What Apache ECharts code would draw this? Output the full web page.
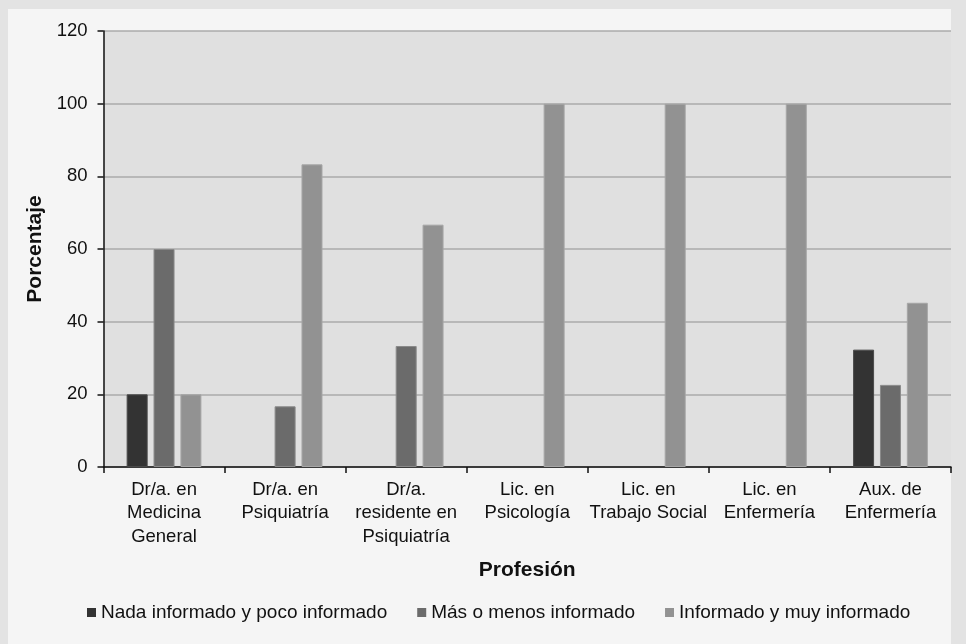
<!DOCTYPE html>
<html>
<head>
<meta charset="utf-8">
<script src="https://cdn.jsdelivr.net/npm/echarts@6/dist/echarts.min.js"></script>
<style>
  html, body { margin: 0; padding: 0; background: #e3e3e3; }
  #chart { width: 966px; height: 644px; }
</style>
</head>
<body>
<div id="chart"></div>
<script>
// Profesiones (eje X)
const categories = [
  'Dr/a. en\nMedicina\nGeneral',
  'Dr/a. en\nPsiquiatría',
  'Dr/a.\nresidente en\nPsiquiatría',
  'Lic. en\nPsicología',
  'Lic. en\nTrabajo Social',
  'Lic. en\nEnfermería',
  'Aux. de\nEnfermería'
];

// Porcentaje por nivel de información
const nadaPoco = [20, 0, 0, 0, 0, 0, 32.3];
const masMenos = [60, 16.7, 33.3, 0, 0, 0, 22.6];
const informado = [20, 83.3, 66.7, 100, 100, 100, 45.2];

const seriesNames = [
  'Nada informado y poco informado',
  'Más o menos informado',
  'Informado y muy informado'
];

const yTicks = [0, 20, 40, 60, 80, 100, 120];

const chart = echarts.init(document.getElementById('chart'), null, { renderer: 'canvas' });

const font = '"Liberation Sans", Arial, sans-serif';

function barSeries(name, data, fill, border) {
  return {
    name: name,
    type: 'bar',
    data: data.map(v => (v === 0 ? null : v)),
    barWidth: 21,
    barGap: '28%',
    itemStyle: { color: fill, borderColor: border, borderWidth: 1 },
    emphasis: { disabled: true }
  };
}

chart.setOption({
  animation: false,
  backgroundColor: '#e3e3e3',
  graphic: [{
    type: 'rect',
    z: -10,
    shape: { x: 8, y: 9, width: 943, height: 640 },
    style: { fill: '#f5f5f5' }
  }],
  grid: {
    left: 103.5, right: 15, top: 31, bottom: 177,
    show: true,
    backgroundColor: '#e0e0e0',
    borderWidth: 0
  },
  legend: {
    data: seriesNames,
    left: 87,
    top: 603,
    padding: 0,
    itemWidth: 9,
    itemHeight: 9,
    itemGap: 30,
    icon: 'rect',
    itemStyle: { borderWidth: 0 },
    textStyle: { fontFamily: font, fontSize: 19, color: '#111' }
  },
  xAxis: {
    type: 'category',
    data: categories,
    name: 'Profesión',
    nameLocation: 'middle',
    nameGap: 93,
    nameTextStyle: { fontFamily: font, fontSize: 21, fontWeight: 'bold', color: '#111' },
    axisLine: { lineStyle: { color: '#111', width: 1.5 } },
    axisTick: { show: true, length: 6, lineStyle: { color: '#111', width: 1.5 } },
    axisLabel: {
      fontFamily: font, fontSize: 18.5, color: '#111',
      lineHeight: 23.5, margin: 11, interval: 0
    },
    splitLine: { show: false }
  },
  yAxis: {
    type: 'value',
    min: yTicks[0],
    max: yTicks[yTicks.length - 1],
    interval: yTicks[1] - yTicks[0],
    name: 'Porcentaje',
    nameLocation: 'middle',
    nameGap: 54,
    nameTextStyle: { fontFamily: font, fontSize: 21, fontWeight: 'bold', color: '#111' },
    axisLine: { show: true, lineStyle: { color: '#111', width: 1.5 } },
    axisTick: { show: true, length: 6, lineStyle: { color: '#111', width: 1.5 } },
    axisLabel: { fontFamily: font, fontSize: 18.5, color: '#111', margin: 16 },
    splitLine: { show: true, lineStyle: { color: '#ababab', width: 1.5 } }
  },
  series: [
    barSeries(seriesNames[0], nadaPoco, '#333333', '#4a4a4a'),
    barSeries(seriesNames[1], masMenos, '#6b6b6b', '#8a8a8a'),
    barSeries(seriesNames[2], informado, '#929292', '#a6a6a6')
  ]
});
</script>
</body>
</html>
